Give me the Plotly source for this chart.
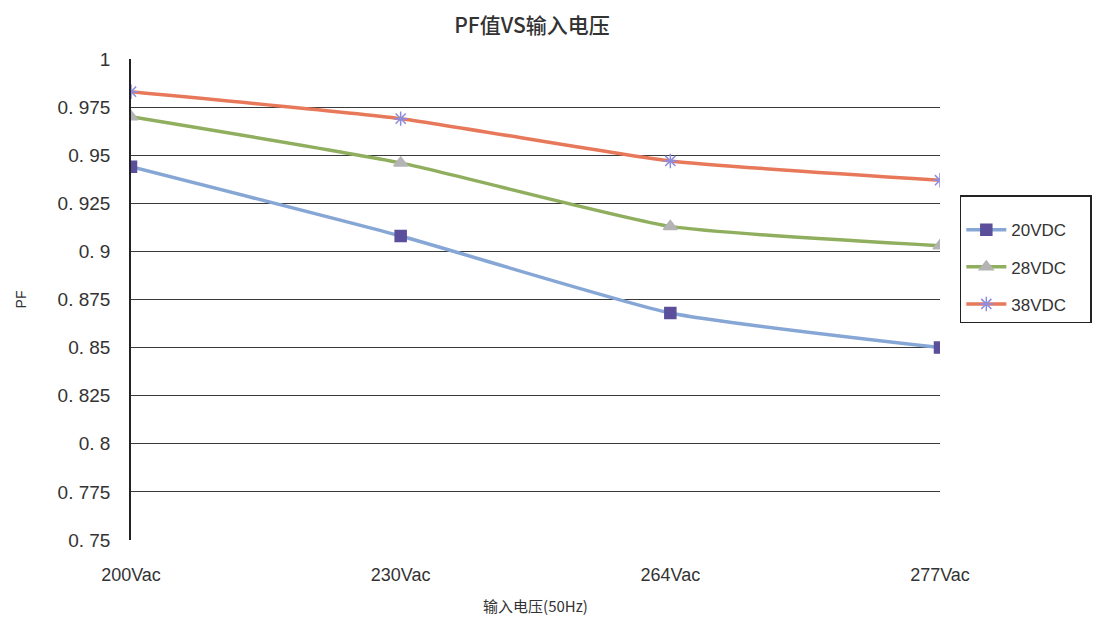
import plotly.graph_objects as go

voltages = ["200Vac", "230Vac", "264Vac", "277Vac"]
pf_20vdc = [0.944, 0.908, 0.868, 0.850]
pf_28vdc = [0.970, 0.946, 0.913, 0.903]
pf_38vdc = [0.983, 0.969, 0.947, 0.937]
y_ticks = [0.75, 0.775, 0.8, 0.825, 0.85, 0.875, 0.9, 0.925, 0.95, 0.975, 1.0]
y_labels = ["0. 75", "0. 775", "0. 8", "0. 825", "0. 85", "0. 875", "0. 9", "0. 925", "0. 95", "0. 975", "1"]

SERIES = [
    ("20VDC", pf_20vdc, "#86a7d6", "#5b4f9c", "square", 11),
    ("28VDC", pf_28vdc, "#8fae5e", "#b4b4b4", "triangle-up", 12),
    ("38VDC", pf_38vdc, "#e8785a", "#8c8ce0", "asterisk-open", 12),
]

fig = go.Figure()
for name, values, line_color, marker_color, symbol, size in SERIES:
    fig.add_trace(
        go.Scatter(
            x=voltages,
            y=values,
            name=name + "\u00a0\u00a0\u00a0\u00a0",
            legendgroup=name,
            mode="lines+markers",
            line={"color": line_color, "width": 3.5, "shape": "spline", "smoothing": 0.5},
            marker={
                "symbol": symbol,
                "size": size,
                "color": marker_color,
                "line": {"color": marker_color, "width": 1.5},
            },
        )
    )

font = "Liberation Sans Narrow, Liberation Sans, Arial, sans-serif"
fig.update_layout(
    width=1103,
    height=623,
    paper_bgcolor="white",
    plot_bgcolor="white",
    margin={"l": 116, "r": 171, "t": 51, "b": 91},
    title={
        "text": "PF值VS输入电压",
        "x": 0.475,
        "xanchor": "center",
        "y": 0.972,
        "yanchor": "middle",
        "font": {"family": "Noto Sans CJK SC", "size": 21, "color": "#333333", "weight": 500},
    },
    font={"family": font, "color": "#333333", "size": 17},
    xaxis={
        "type": "category",
        "range": [0, 3],
        "showgrid": False,
        "showline": False,
        "ticks": "",
        "ticklabelstandoff": 22,
        "tickfont": {"size": 18},
        "title": {
            "text": "输入电压(50Hz)",
            "font": {"family": "Noto Sans CJK SC", "size": 15},
            "standoff": 17,
        },
    },
    yaxis={
        "range": [0.75, 1.0],
        "tickvals": y_ticks,
        "ticktext": y_labels,
        "showgrid": True,
        "gridcolor": "#3a3a3a",
        "gridwidth": 1,
        "showline": True,
        "linecolor": "#222222",
        "linewidth": 1.5,
        "zeroline": False,
        "ticks": "",
        "ticklabelstandoff": 15,
        "tickfont": {"size": 19},
        "title": {"text": "PF", "font": {"size": 14}, "standoff": 28},
    },
    legend={
        "x": 1.0245,
        "xanchor": "left",
        "y": 0.717,
        "yanchor": "top",
        "bordercolor": "#222222",
        "borderwidth": 1.5,
        "bgcolor": "white",
        "font": {"size": 17},
        "title": {"text": "\u00a0", "font": {"size": 12}},
        "tracegroupgap": 12,
        "itemwidth": 40,
    },
)

fig.write_html("out.html")
